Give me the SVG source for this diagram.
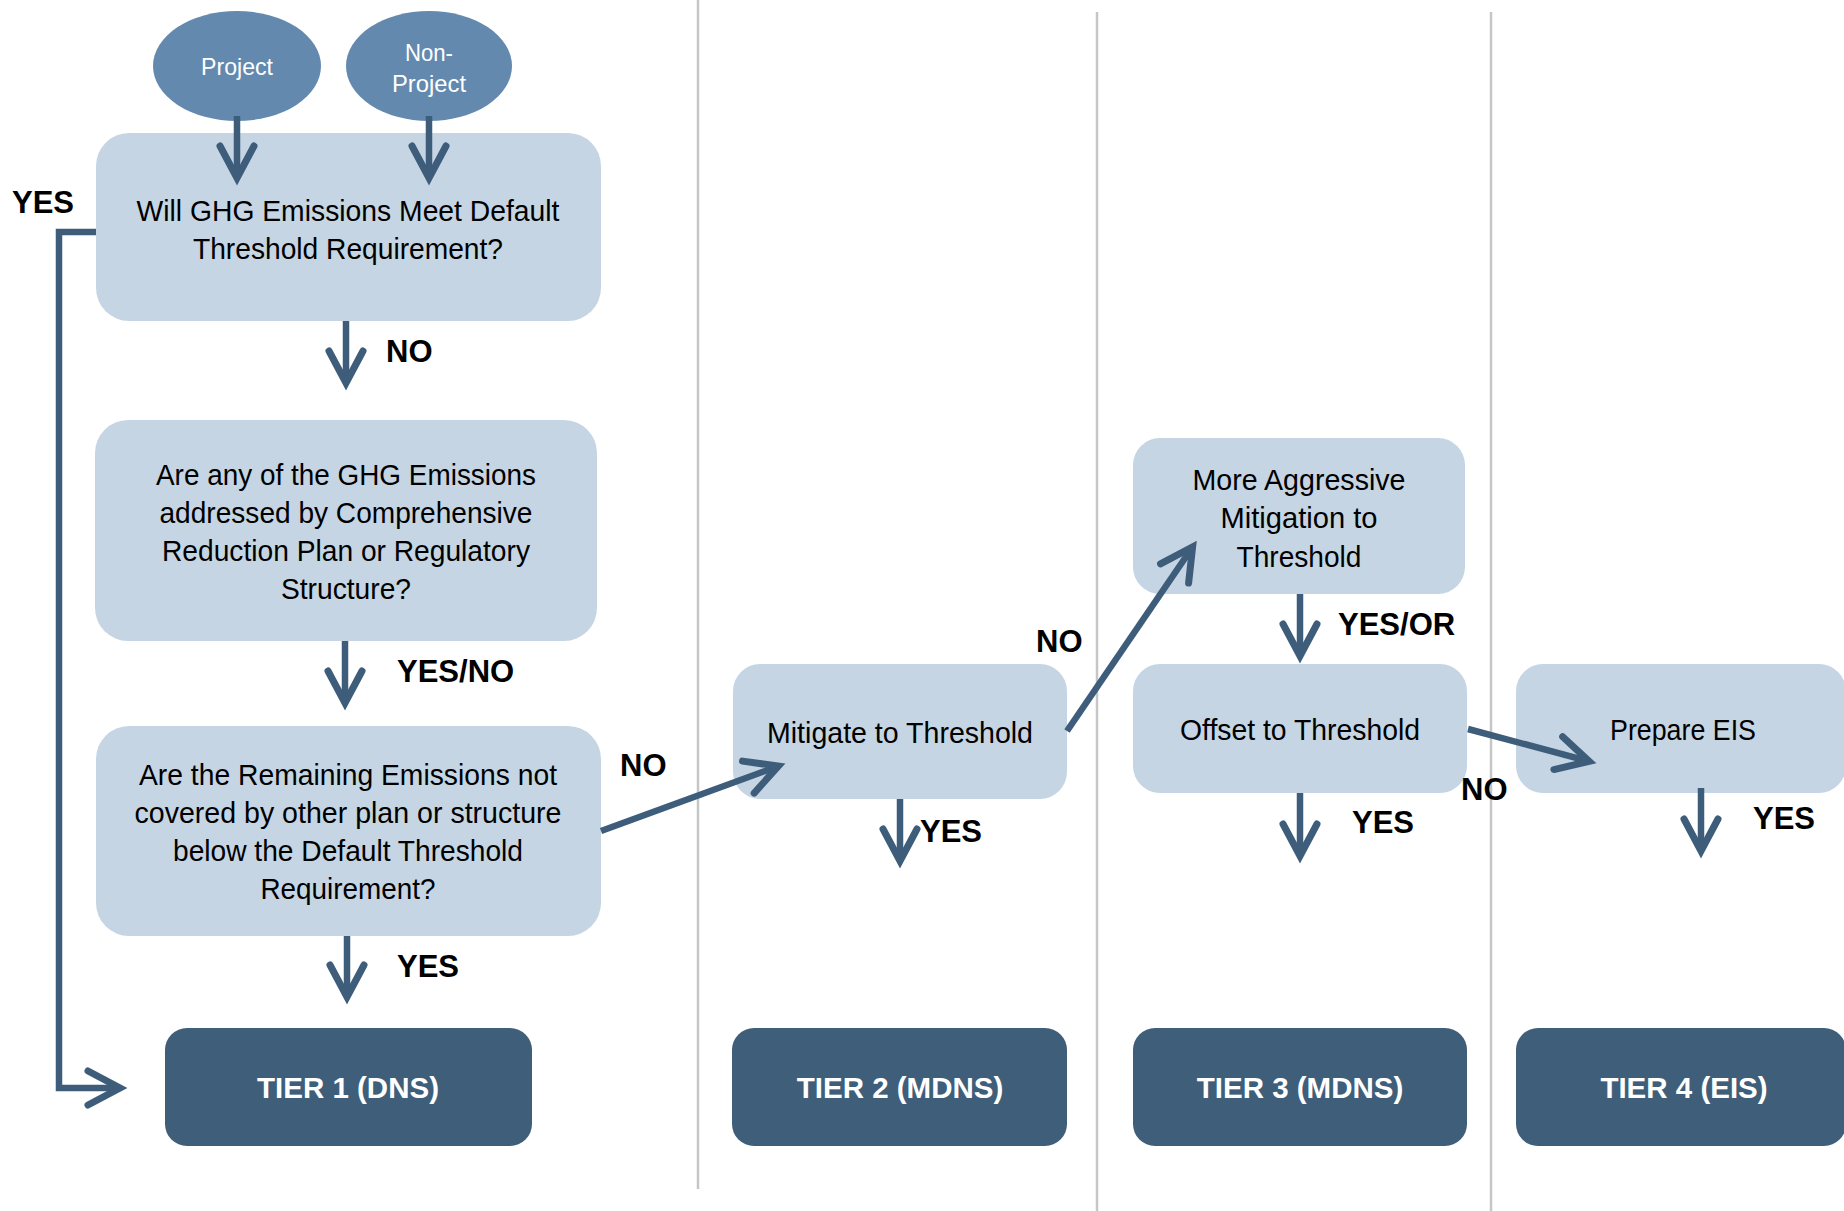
<svg xmlns="http://www.w3.org/2000/svg" width="1844" height="1211" viewBox="0 0 1844 1211">
<style>
.box{fill:#c5d5e3}
.tier{fill:#3e5e7a}
.oval{fill:#6389af}
.t{font-family:"Liberation Sans",Arial,sans-serif;font-size:29px;fill:#000;text-anchor:middle}
.ot{font-family:"Liberation Sans",Arial,sans-serif;font-size:24px;fill:#fff;text-anchor:middle}
.tt{font-family:"Liberation Sans",Arial,sans-serif;font-size:29.5px;font-weight:bold;fill:#fff;text-anchor:middle}
.lbl{font-family:"Liberation Sans",Arial,sans-serif;font-size:31px;font-weight:bold;fill:#000}
.div{stroke:#c6c6c6;stroke-width:2.5;fill:none}
.c{stroke:#3e5d7a;stroke-width:6.5;fill:none;marker-end:url(#arr)}
</style>
<defs>
<marker id="arr" markerUnits="userSpaceOnUse" viewBox="-40 -25 46 50" refX="0" refY="0" markerWidth="46" markerHeight="50" orient="auto" overflow="visible">
<path d="M -32 -17 L 0 0 L -32 17" fill="none" stroke="#3e5d7a" stroke-width="7" stroke-linecap="round" stroke-linejoin="miter"/>
</marker>
</defs>
<rect width="1844" height="1211" fill="#fff"/>
<g id="dividers">
<line class="div" x1="698" y1="0" x2="698" y2="1189"/>
<line class="div" x1="1097" y1="12" x2="1097" y2="1211"/>
<line class="div" x1="1491" y1="12" x2="1491" y2="1211"/>
</g>
<g id="project">
<ellipse class="oval" cx="237" cy="66" rx="84" ry="55"/>
<text class="ot" x="237" y="75" textLength="72" lengthAdjust="spacingAndGlyphs">Project</text>
</g>
<g id="nonproject">
<ellipse class="oval" cx="429" cy="66" rx="83" ry="55"/>
<text class="ot" x="429" y="61" textLength="48" lengthAdjust="spacingAndGlyphs">Non-</text>
<text class="ot" x="429" y="92" textLength="74" lengthAdjust="spacingAndGlyphs">Project</text>
</g>
<g id="q1">
<rect class="box" x="96" y="133" width="505" height="188" rx="33"/>
<text class="t" x="348" y="221" textLength="423" lengthAdjust="spacingAndGlyphs">Will GHG Emissions Meet  Default</text>
<text class="t" x="348" y="259" textLength="310" lengthAdjust="spacingAndGlyphs">Threshold Requirement?</text>
</g>
<g id="q2">
<rect class="box" x="95" y="420" width="502" height="221" rx="33"/>
<text class="t" x="346" y="485" textLength="380" lengthAdjust="spacingAndGlyphs">Are any of the GHG Emissions</text>
<text class="t" x="346" y="523" textLength="373" lengthAdjust="spacingAndGlyphs">addressed by Comprehensive</text>
<text class="t" x="346" y="561" textLength="368" lengthAdjust="spacingAndGlyphs">Reduction Plan or Regulatory</text>
<text class="t" x="346" y="599" textLength="130" lengthAdjust="spacingAndGlyphs">Structure?</text>
</g>
<g id="q3">
<rect class="box" x="96" y="726" width="505" height="210" rx="33"/>
<text class="t" x="348" y="785" textLength="418" lengthAdjust="spacingAndGlyphs">Are the Remaining Emissions not</text>
<text class="t" x="348" y="823" textLength="427" lengthAdjust="spacingAndGlyphs">covered by other plan or structure</text>
<text class="t" x="348" y="861" textLength="350" lengthAdjust="spacingAndGlyphs">below the Default Threshold</text>
<text class="t" x="348" y="899" textLength="175" lengthAdjust="spacingAndGlyphs">Requirement?</text>
</g>
<g id="mitigate">
<rect class="box" x="733" y="664" width="334" height="135" rx="27"/>
<text class="t" x="900" y="743" textLength="266" lengthAdjust="spacingAndGlyphs">Mitigate to Threshold</text>
</g>
<g id="aggressive">
<rect class="box" x="1133" y="438" width="332" height="156" rx="27"/>
<text class="t" x="1299" y="490" textLength="213" lengthAdjust="spacingAndGlyphs">More Aggressive</text>
<text class="t" x="1299" y="528" textLength="157" lengthAdjust="spacingAndGlyphs">Mitigation to</text>
<text class="t" x="1299" y="567" textLength="125" lengthAdjust="spacingAndGlyphs">Threshold</text>
</g>
<g id="offset">
<rect class="box" x="1133" y="664" width="334" height="129" rx="27"/>
<text class="t" x="1300" y="740" textLength="240" lengthAdjust="spacingAndGlyphs">Offset to Threshold</text>
</g>
<g id="eis">
<rect class="box" x="1516" y="664" width="330" height="129" rx="27"/>
<text class="t" x="1683" y="740" textLength="146" lengthAdjust="spacingAndGlyphs">Prepare EIS</text>
</g>
<g id="tier1">
<rect class="tier" x="165" y="1028" width="367" height="118" rx="22"/>
<text class="tt" x="348" y="1098">TIER 1 (DNS)</text>
</g>
<g id="tier2">
<rect class="tier" x="732" y="1028" width="335" height="118" rx="22"/>
<text class="tt" x="900" y="1098">TIER 2 (MDNS)</text>
</g>
<g id="tier3">
<rect class="tier" x="1133" y="1028" width="334" height="118" rx="22"/>
<text class="tt" x="1300" y="1098">TIER 3 (MDNS)</text>
</g>
<g id="tier4">
<rect class="tier" x="1516" y="1028" width="330" height="118" rx="22"/>
<text class="tt" x="1684" y="1098">TIER 4 (EIS)</text>
</g>
<g id="connectors">
<path class="c" d="M 237 116 V 178"/>
<path class="c" d="M 429 116 V 178"/>
<path class="c" d="M 346 321 V 383"/>
<path class="c" d="M 345 641 V 703"/>
<path class="c" d="M 347 936 V 997"/>
<path class="c" d="M 96 232 H 59 V 1088 H 120"/>
<path class="c" d="M 601 831 L 778.4 766.1"/>
<path class="c" d="M 1067 731 L 1192.6 547"/>
<path class="c" d="M 900 799 V 861"/>
<path class="c" d="M 1300 594 V 656"/>
<path class="c" d="M 1300 793 V 856"/>
<path class="c" d="M 1468 729 L 1589.2 761.4"/>
<path class="c" d="M 1701 788 V 851"/>
</g>
<g id="labels">
<text class="lbl" x="12" y="213">YES</text>
<text class="lbl" x="386" y="362">NO</text>
<text class="lbl" x="397" y="682">YES/NO</text>
<text class="lbl" x="397" y="977">YES</text>
<text class="lbl" x="620" y="776">NO</text>
<text class="lbl" x="1036" y="652">NO</text>
<text class="lbl" x="920" y="842">YES</text>
<text class="lbl" x="1338" y="635">YES/OR</text>
<text class="lbl" x="1352" y="833">YES</text>
<text class="lbl" x="1461" y="800">NO</text>
<text class="lbl" x="1753" y="829">YES</text>
</g>
</svg>
